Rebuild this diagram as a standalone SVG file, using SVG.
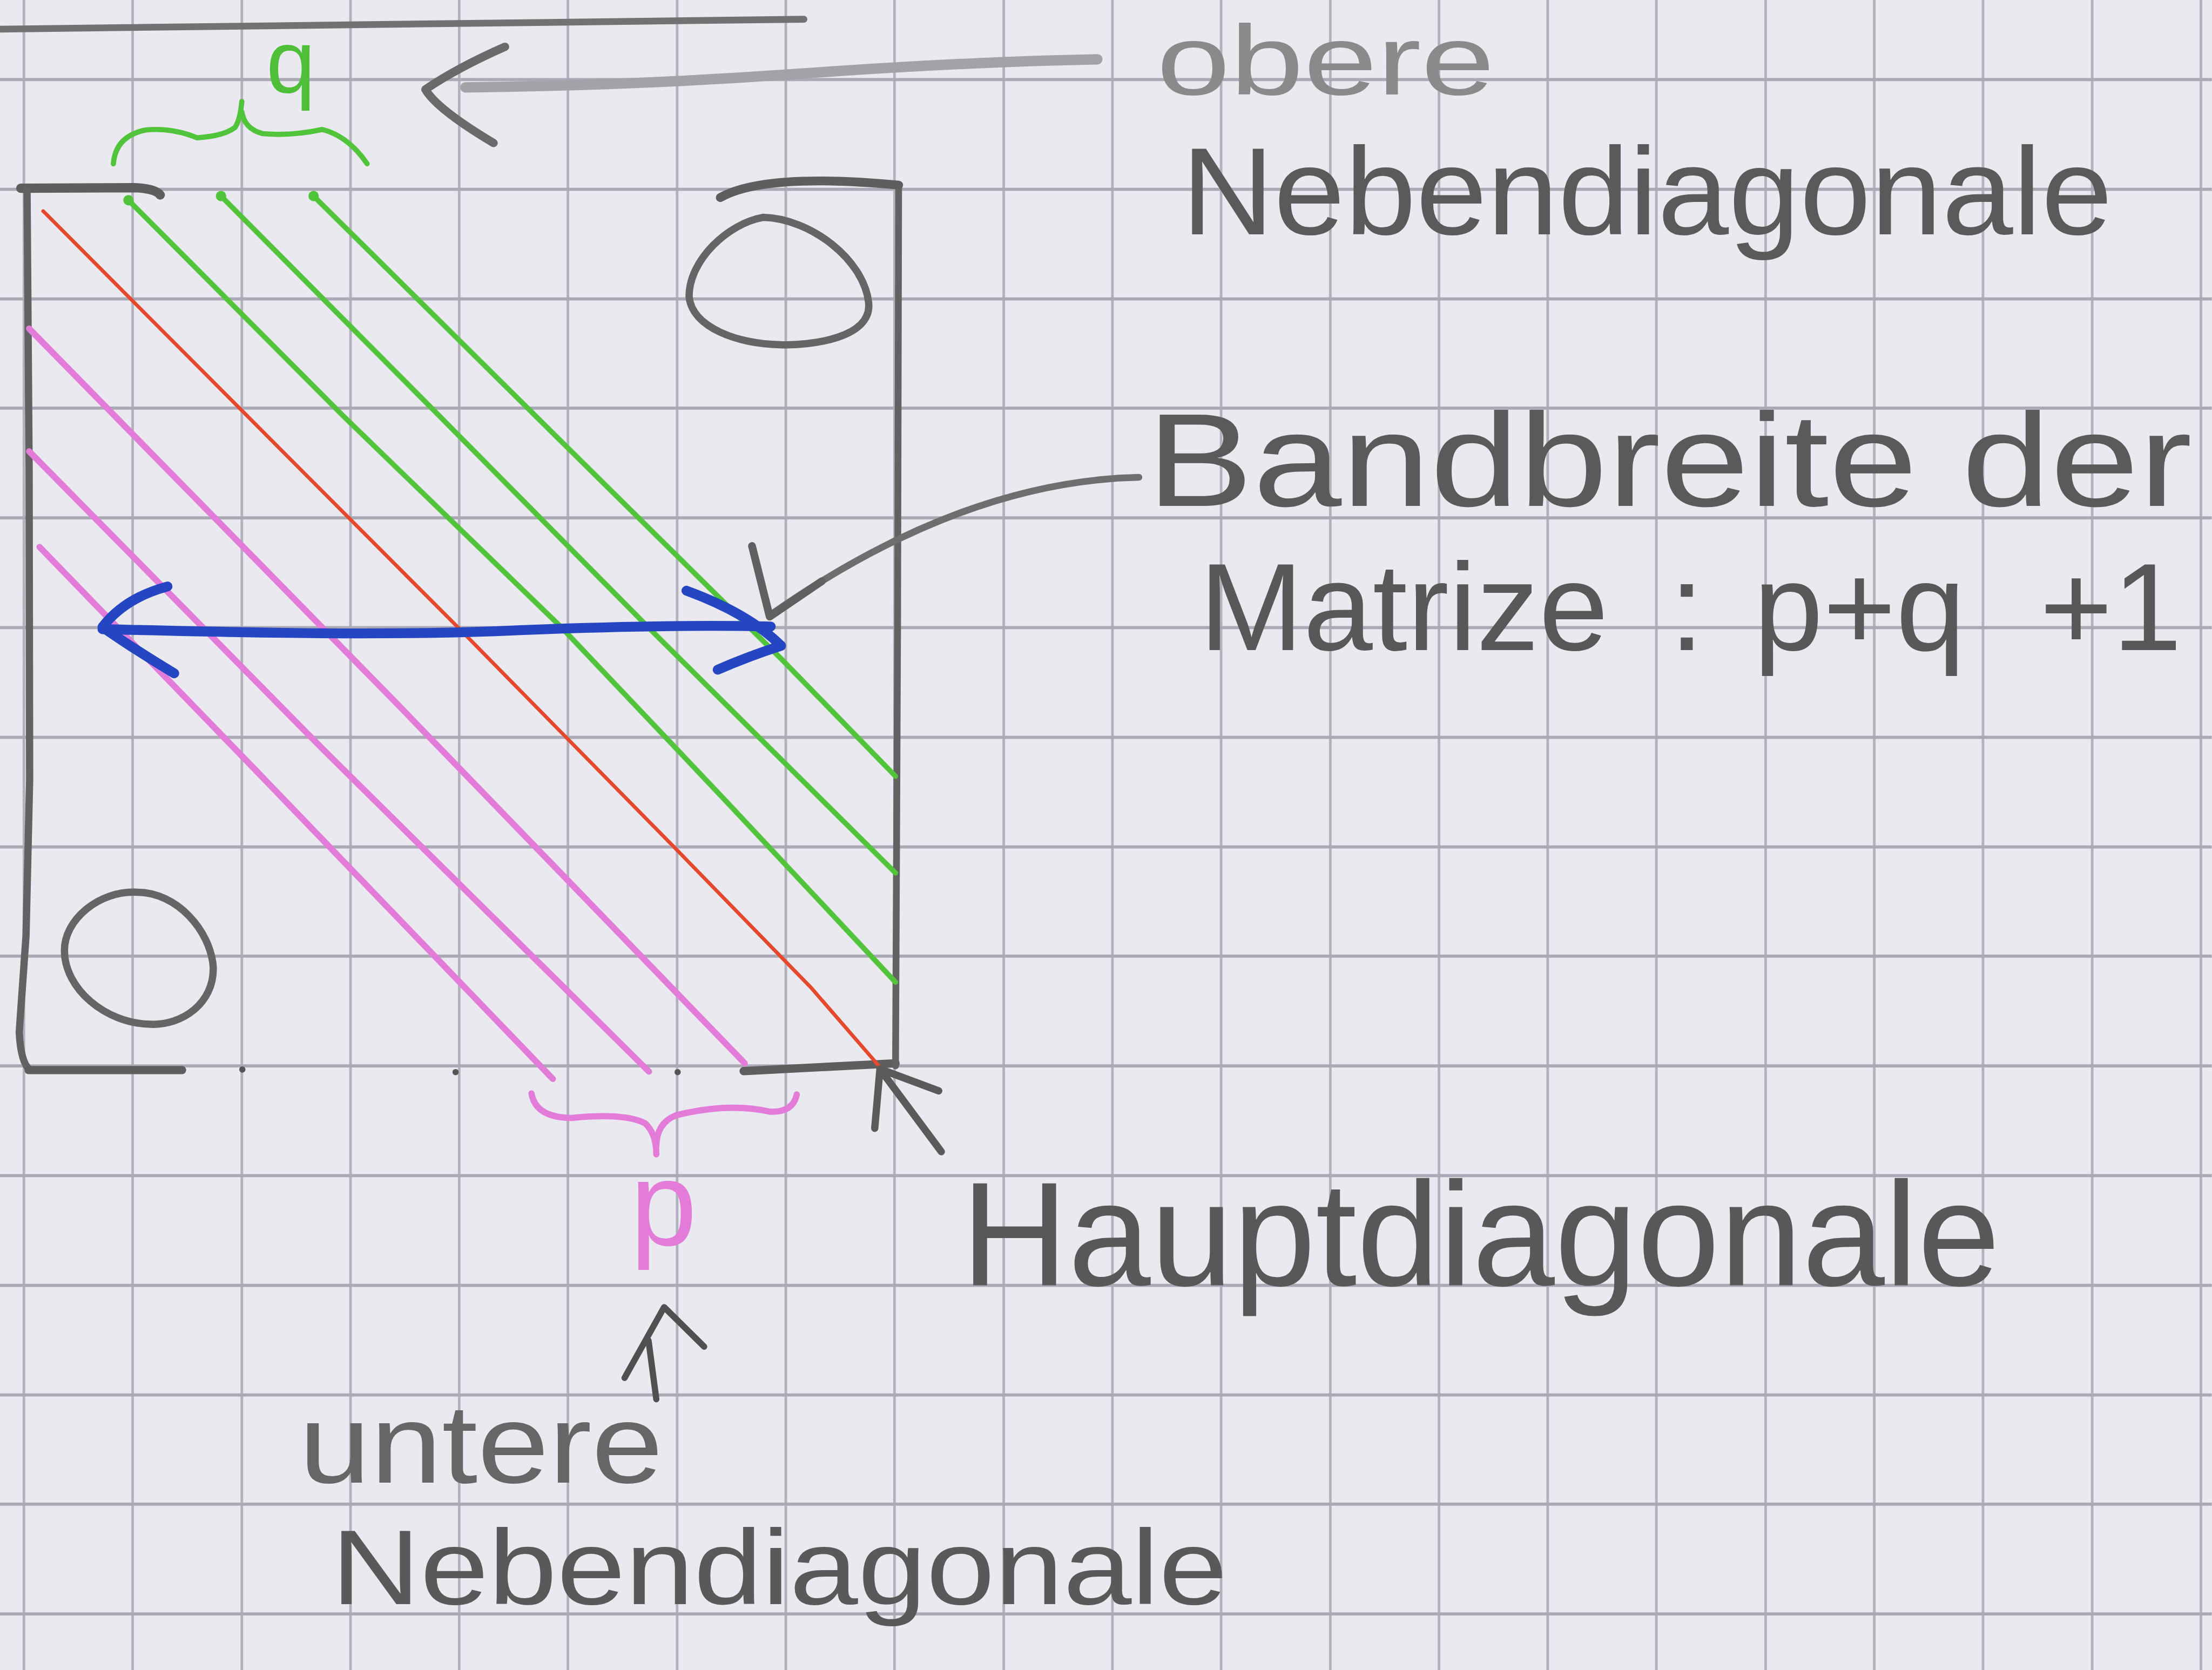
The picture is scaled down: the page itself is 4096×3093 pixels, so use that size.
<svg xmlns="http://www.w3.org/2000/svg" width="4096" height="3093" viewBox="0 0 4096 3093">
<style>
.gv{stroke:#b3b1bd;stroke-width:5;fill:none}
.gh{stroke:#aba9b6;stroke-width:6;fill:none}
.pen{fill:none;stroke-linecap:round;stroke-linejoin:round}
.green{fill:none;stroke:#52c43c;stroke-width:10;stroke-linecap:round;stroke-linejoin:round}
.pink{fill:none;stroke:#e27cd8;stroke-width:12;stroke-linecap:round;stroke-linejoin:round}
.red{fill:none;stroke:#e4492d;stroke-width:7;stroke-linecap:round;stroke-linejoin:round}
.blue{fill:none;stroke:#2546c2;stroke-width:19;stroke-linecap:round;stroke-linejoin:round}
.txt{font-family:"Liberation Sans",Arial,sans-serif}
</style>
<rect x="0" y="0" width="4096" height="3093" fill="#e9e9ef"/>
<g transform="scale(0.963)">
<g id="grid">
<path class="gv" d="M46 0V3212M255 0V3212M465 0V3212M674 0V3212M883 0V3212M1092 0V3212M1302 0V3212M1511 0V3212M1720 0V3212M1930 0V3212M2139 0V3212M2348 0V3212M2558 0V3212M2767 0V3212M2976 0V3212M3185 0V3212M3395 0V3212M3604 0V3212M3813 0V3212M4023 0V3212M4232 0V3212"/>
<path class="gh" d="M0 153H4253M0 364H4253M0 575H4253M0 785H4253M0 996H4253M0 1207H4253M0 1418H4253M0 1629H4253M0 1839H4253M0 2050H4253M0 2261H4253M0 2472H4253M0 2683H4253M0 2893H4253M0 3104H4253"/>
</g>
<g id="top-rule">
<path class="pen" stroke="#727272" stroke-width="13" d="M0 56 C400 52 900 44 1546 37"/>
</g>
<g id="matrix">
<path class="pen" stroke="#5e5e5e" stroke-width="18" d="M40 362 L260 361 Q300 363 308 375"/>
<path class="pen" stroke="#626262" stroke-width="14" d="M52 366 L56 900 L57 1500 L50 1800 L37 1985 Q40 2045 58 2058"/>
<path class="pen" stroke="#5e5e5e" stroke-width="16" d="M55 2058 L350 2058"/>
<path class="pen" stroke="#5e5e5e" stroke-width="16" d="M1430 2060 L1722 2045"/>
<path class="pen" stroke="#626262" stroke-width="13" d="M1728 357 L1726 1200 L1722 2050"/>
<path class="pen" stroke="#5e5e5e" stroke-width="17" d="M1385 380 Q1470 332 1728 356"/>
<circle cx="466" cy="2057" r="6" fill="#555"/>
<circle cx="876" cy="2062" r="6" fill="#555"/>
<circle cx="1303" cy="2062" r="6" fill="#555"/>
</g>
<g id="zero-top">
<path class="pen" stroke="#656565" stroke-width="14" d="M1467 418 C1560 420 1660 500 1670 580 C1680 650 1560 665 1500 663 C1420 662 1330 630 1325 570 C1325 500 1400 430 1467 418 Z"/>
</g>
<g id="zero-bottom">
<path class="pen" stroke="#656565" stroke-width="14" d="M264 1716 C340 1716 405 1790 410 1860 C412 1930 350 1972 290 1970 C200 1968 125 1900 124 1830 C122 1770 190 1712 264 1716 Z"/>
</g>
<g id="diagonals">
<polyline class="red" points="83,406 884,1210 1297,1630 1560,1900 1690,2050"/>
<polyline class="green" points="247,385 660,800 1079,1206 1400,1545 1722,1889"/>
<polyline class="green" points="425,377 840,795 1251,1211 1722,1679"/>
<polyline class="green" points="603,377 1050,820 1504,1269 1722,1493"/>
<circle cx="247" cy="385" r="10" fill="#52c43c"/>
<circle cx="425" cy="377" r="10" fill="#52c43c"/>
<circle cx="603" cy="377" r="10" fill="#52c43c"/>
<polyline class="pink" points="76,1052 500,1490 1063,2075"/>
<polyline class="pink" points="56,868 620,1440 1248,2061"/>
<polyline class="pink" points="56,632 760,1350 1432,2045"/>
</g>
<g id="q-brace">
<path class="green" d="M218 315 Q222 262 280 250 Q330 245 379 265 Q430 262 452 245 Q462 230 465 195 M465 215 Q470 248 505 257 Q560 262 620 249 Q670 262 706 315"/>
<text class="txt" x="512" y="178" font-size="170" fill="#4fbf3a">q</text>
</g>
<g id="p-brace">
<path class="pink" d="M1022 2103 Q1030 2150 1100 2150 Q1200 2140 1240 2160 Q1262 2180 1262 2220 M1262 2205 Q1262 2160 1300 2145 Q1400 2120 1480 2138 Q1525 2140 1532 2105"/>
<text class="txt" x="1212" y="2395" font-size="230" fill="#e27cd8">p</text>
</g>
<g id="connectors">
<g id="arrow-obere">
<path class="pen" stroke="#a2a2a7" stroke-width="20" d="M895 168 C1150 165 1350 155 1520 143 C1700 130 1900 118 2110 114"/>
<path class="pen" stroke="#6a6a6a" stroke-width="16" d="M971 90 Q880 130 818 172 Q840 210 949 275"/>
</g>
<g id="arrow-bandbreite">
<path class="pen" stroke="#6e6e6e" stroke-width="13" d="M2190 918 Q1850 925 1482 1182"/>
<path class="pen" stroke="#606060" stroke-width="15" d="M1446 1050 L1480 1186 L1580 1118"/>
</g>
<g id="arrow-haupt">
<path class="pen" stroke="#5a5a5a" stroke-width="14" d="M1810 2215 L1692 2056 M1682 2170 L1692 2056 L1805 2098"/>
</g>
<g id="arrow-untere">
<path class="pen" stroke="#505050" stroke-width="12" d="M1201 2650 L1277 2514 L1354 2590 M1247 2578 L1262 2691"/>
</g>
<g id="bandwidth-arrow">
<path class="blue" d="M197 1210 C450 1216 750 1224 1000 1212 C1200 1204 1350 1202 1482 1205"/>
<path class="blue" d="M322 1128 Q240 1150 197 1206 Q260 1250 335 1295"/>
<path class="blue" d="M1320 1136 Q1440 1180 1502 1242 Q1440 1262 1380 1288"/>
</g>
</g>
<g id="label-obere">
<text class="txt" x="2224" y="182" font-size="190" textLength="650" lengthAdjust="spacingAndGlyphs" fill="#8a8a8a">obere</text>
<text class="txt" x="2272" y="451" font-size="240" textLength="1790" lengthAdjust="spacingAndGlyphs" fill="#5a5a5a">Nebendiagonale</text>
</g>
<g id="label-bandbreite">
<text class="txt" x="2205" y="973" font-size="255" textLength="2010" lengthAdjust="spacingAndGlyphs" fill="#5a5a5a">Bandbreite der</text>
<text class="txt" y="1250" font-size="240" fill="#585858"><tspan x="2306">Matrize</tspan> <tspan x="3210">:</tspan> <tspan x="3372">p+q</tspan> <tspan x="3922">+1</tspan></text>
</g>
<g id="label-haupt">
<text class="txt" x="1848" y="2472" font-size="285" textLength="1998" lengthAdjust="spacingAndGlyphs" fill="#585858">Hauptdiagonale</text>
</g>
<g id="label-untere">
<text class="txt" x="575" y="2852" font-size="215" textLength="700" lengthAdjust="spacingAndGlyphs" fill="#666666">untere</text>
<text class="txt" x="637" y="3085" font-size="205" textLength="1723" lengthAdjust="spacingAndGlyphs" fill="#595959">Nebendiagonale</text>
</g>
</g>
</svg>
